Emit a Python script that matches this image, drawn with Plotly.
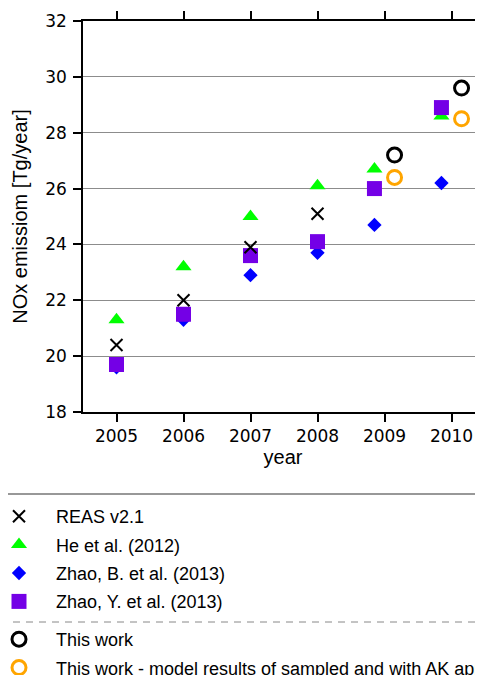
import plotly.graph_objects as go

# ---- data ----
years = [2005, 2006, 2007, 2008, 2009, 2010]
reas_v21 = [20.4, 22.0, 23.9, 25.1]
he_2012 = [21.3, 23.2, 25.0, 26.1, 26.7, 28.6]
zhao_b_2013 = [19.6, 21.3, 22.9, 23.7, 24.7, 26.2]
zhao_y_2013 = [19.7, 21.5, 23.6, 24.1, 26.0, 28.9]
this_work_years = [2009, 2010]
this_work = [27.2, 29.6]
this_work_ak = [26.4, 28.5]

y_ticks = [18, 20, 22, 24, 26, 28, 30, 32]

# side-by-side shift where "this work" shares a year with literature values
SHIFT = 0.15


def lit_x(yrs):
    return [y - SHIFT if y in this_work_years else y for y in yrs]


def tw_x(yrs):
    return [y + SHIFT for y in yrs]


# page has an 8px body margin -> figure coords = page coords - 8
OFF = 8
W, H = 475, 667
ML, MT = 83 - OFF, 21 - OFF
PLOT_BOTTOM = 412 - OFF
MB = H - PLOT_BOTTOM
plot_h = PLOT_BOTTOM - MT
plot_w = W - ML


def py(page_y):
    return (PLOT_BOTTOM - (page_y - OFF)) / plot_h


def px(page_x):
    return ((page_x - OFF) - ML) / plot_w


fig = go.Figure()

fig.add_trace(go.Scatter(
    x=lit_x(years), y=he_2012, mode="markers", name="He et al. (2012)",
    marker=dict(symbol="triangle-up", size=14, color="#00ff00"),
    legendrank=2, legend="legend", legendgroup="g2"))
fig.add_trace(go.Scatter(
    x=lit_x(years), y=zhao_b_2013, mode="markers", name="Zhao, B. et al. (2013)",
    marker=dict(symbol="diamond", size=11, color="#0000ff"),
    legendrank=3, legend="legend", legendgroup="g3"))
fig.add_trace(go.Scatter(
    x=lit_x(years), y=zhao_y_2013, mode="markers", name="Zhao, Y. et al. (2013)",
    marker=dict(symbol="square", size=15, color="#7400e6"),
    legendrank=4, legend="legend", legendgroup="g4"))
fig.add_trace(go.Scatter(
    x=lit_x(years[:len(reas_v21)]), y=reas_v21, mode="markers", name="REAS v2.1",
    marker=dict(symbol="x-thin-open", size=12, color="black",
                line=dict(color="black", width=2)),
    legendrank=1, legend="legend", legendgroup="g1"))
fig.add_trace(go.Scatter(
    x=tw_x(this_work_years), y=this_work, mode="markers", name="This work",
    marker=dict(symbol="circle-open", size=14, color="black",
                line=dict(color="black", width=3)),
    legendrank=5, legend="legend2", legendgroup="g5"))
fig.add_trace(go.Scatter(
    x=tw_x(this_work_years), y=this_work_ak, mode="markers",
    name="This work - model results of sampled and with AK applied",
    marker=dict(symbol="circle-open", size=14, color="#ffa500",
                line=dict(color="#ffa500", width=3)),
    legendrank=6, legend="legend2", legendgroup="g6"))

axis_font = dict(family="DejaVu Sans", size=17, color="black")
title_font = dict(family="Liberation Sans, Arial", size=20, color="black")
legend_font = dict(family="Liberation Sans, Arial", size=18, color="black")

legend_common = dict(
    xanchor="left", yanchor="top", font=legend_font, itemwidth=64,
    tracegroupgap=2, bgcolor="rgba(0,0,0,0)", traceorder="grouped",
    borderwidth=0,
)

fig.update_layout(
    width=W, height=H,
    margin=dict(l=ML, r=0, t=MT, b=MB, autoexpand=False),
    paper_bgcolor="white", plot_bgcolor="white",
    font=axis_font,
    xaxis=dict(
        range=[2004.5, 2004.5 + plot_w / 67.0],
        tickvals=years, ticktext=[str(y) for y in years],
        showgrid=False, zeroline=False,
        showline=True, linecolor="black", linewidth=1.5,
        mirror="ticks", ticks="outside", ticklen=8, tickwidth=1.5, tickcolor="black",
        tickfont=axis_font,
        title=dict(text="year", font=title_font, standoff=4),
    ),
    yaxis=dict(
        range=[18, 32], tickvals=y_ticks,
        showgrid=True, gridcolor="#8c8c8c", gridwidth=1,
        zeroline=False,
        showline=True, linecolor="black", linewidth=1.5,
        ticks="outside", ticklen=8, tickwidth=1.5, tickcolor="black",
        tickfont=axis_font, ticklabelstandoff=3,
        title=dict(text="NOx emissiom [Tg/year]", font=title_font, standoff=12),
    ),
    legend=dict(x=px(-18), y=py(498), **legend_common),
    legend2=dict(x=px(-18), y=py(621), **legend_common),
    shapes=[
        dict(type="line", xref="paper", yref="paper",
             x0=px(0), x1=1, y0=py(494), y1=py(494),
             line=dict(color="#333333", width=1.2)),
        dict(type="line", xref="paper", yref="paper",
             x0=px(0), x1=1, y0=py(622), y1=py(622),
             line=dict(color="#888888", width=1, dash="7px,6px")),
    ],
)

fig.write_html("out.html")
